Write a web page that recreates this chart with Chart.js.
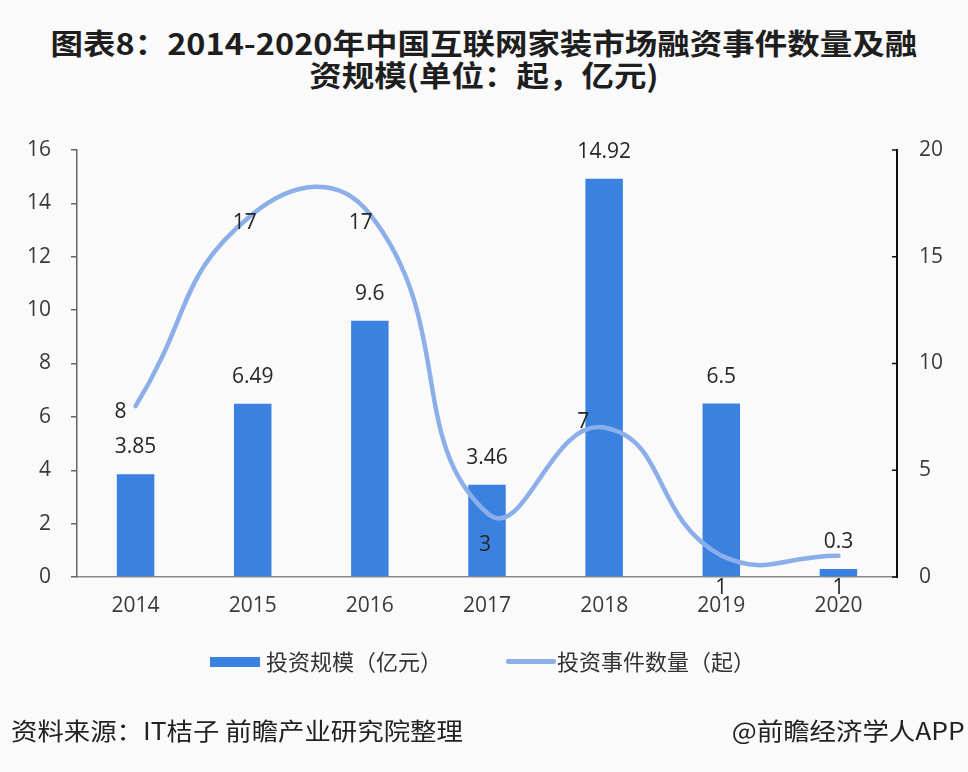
<!DOCTYPE html>
<html><head><meta charset="utf-8">
<script src="https://cdn.jsdelivr.net/npm/chart.js@4.4.0/dist/chart.umd.min.js"></script>
<style>
html,body{margin:0;padding:0;background:#fafafa;}
#wrap{position:relative;width:968px;height:772px;overflow:hidden;background:#fafafa;font-family:"Noto Sans CJK SC","Noto Sans",sans-serif;}
#c{position:absolute;left:0;top:0;}
.title{position:absolute;left:0;width:968px;text-align:center;font-weight:bold;font-size:29px;color:#1e1e1e;line-height:32px;white-space:nowrap;}
.title span{display:inline-block;transform:scaleX(1.12);transform-origin:center;}
.leg{position:absolute;top:647px;height:26px;line-height:26px;font-size:22px;color:#333;white-space:nowrap;}
.sw-bar{position:absolute;width:50px;height:10px;background:#3b82e0;}
.sw-line{position:absolute;width:50px;height:5px;background:#8cafea;border-radius:2px;}
.foot{position:absolute;top:715px;font-size:24px;color:#222;line-height:30px;white-space:nowrap;}
.foot span{display:inline-block;transform:scaleX(1.1);}
</style></head>
<body>
<div id="wrap">
  <div class="title" style="top:26px"><span>图表8：2014-2020年中国互联网家装市场融资事件数量及融</span></div>
  <div class="title" style="top:58px"><span>资规模(单位：起，亿元)</span></div>
  <canvas id="c" width="968" height="772"></canvas>
  <div class="sw-bar" style="left:210px;top:657px"></div>
  <div class="leg" style="left:266px">投资规模（亿元）</div>
  <div class="sw-line" style="left:506px;top:659px"></div>
  <div class="leg" style="left:557px">投资事件数量（起）</div>
  <div class="foot" style="left:11px"><span style="transform-origin:left center">资料来源：IT桔子 前瞻产业研究院整理</span></div>
  <div class="foot" style="right:3px"><span style="transform-origin:right center">@前瞻经济学人APP</span></div>
</div>
<script>
const categories = ['2014','2015','2016','2017','2018','2019','2020'];
const investAmount = [3.85, 6.49, 9.6, 3.46, 14.92, 6.5, 0.3];
const eventCount = [8, 17, 17, 3, 7, 1, 1];
const leftAxisMax = 16, leftAxisStep = 2;
const rightAxisMax = 20, rightAxisStep = 5;

// label placement (style only)
const lineLabelOffsets = [[-15,6],[-8,9],[-9,9],[-2,32],[-21,-6],[0,32],[0,32]];

const FONT = '"Open Sans", "Noto Sans", sans-serif';

const labelPlugin = {
  id: 'labels',
  afterDatasetsDraw(chart) {
    const ctx = chart.ctx;
    ctx.save();
    ctx.font = '21px ' + FONT;
    ctx.fillStyle = '#262626';
    ctx.textAlign = 'center';
    ctx.textBaseline = 'middle';
    chart.getDatasetMeta(0).data.forEach((el, i) => {
      ctx.fillText(String(investAmount[i]), el.x, el.y - 27);
    });
    chart.getDatasetMeta(1).data.forEach((el, i) => {
      const o = lineLabelOffsets[i];
      ctx.fillText(String(eventCount[i]), el.x + o[0], el.y + o[1]);
    });
    ctx.restore();
  },
  afterDraw(chart) {
    const s = chart.scales.y1, ctx = chart.ctx;
    ctx.save();
    ctx.strokeStyle = '#111';
    ctx.lineWidth = 1.5;
    s.ticks.forEach(t => {
      const y = s.getPixelForValue(t.value);
      ctx.beginPath();
      ctx.moveTo(chart.chartArea.right - 5, y);
      ctx.lineTo(chart.chartArea.right, y);
      ctx.stroke();
    });
    ctx.restore();
  }
};

new Chart(document.getElementById('c'), {
  data: {
    labels: categories,
    datasets: [
      { type: 'bar', label: '投资规模（亿元）', data: investAmount, yAxisID: 'y',
        backgroundColor: '#3b82e0', categoryPercentage: 1, barPercentage: 0.32, order: 2 },
      { type: 'line', label: '投资事件数量（起）', data: eventCount, yAxisID: 'y1',
        borderColor: '#8cafea', borderWidth: 4.5, tension: 0.5, pointRadius: 0,
        borderCapStyle: 'round', fill: false, order: 1 }
    ]
  },
  options: {
    responsive: false,
    animation: false,
    layout: { padding: { top: 150, bottom: 155, left: 0, right: 0 } },
    plugins: { legend: { display: false }, tooltip: { enabled: false }, title: { display: false } },
    scales: {
      x: {
        grid: { display: false },
        border: { display: true, color: '#8a8a8a', width: 1.5 },
        ticks: { color: '#3a3a3a', font: { size: 21, family: FONT }, padding: 8 },
        afterFit(s) { s.height = 40; }
      },
      y: {
        position: 'left', min: 0, max: leftAxisMax,
        ticks: { stepSize: leftAxisStep, color: '#3a3a3a', font: { size: 21, family: FONT }, padding: 20 },
        grid: { drawOnChartArea: false, drawTicks: true, tickLength: 6, color: '#666', lineWidth: 1.5 },
        border: { display: true, color: '#666', width: 1.5 },
        afterFit(s) { s.width = 77; }
      },
      y1: {
        position: 'right', min: 0, max: rightAxisMax,
        ticks: { stepSize: rightAxisStep, color: '#3a3a3a', font: { size: 21, family: FONT }, padding: 22 },
        grid: { display: false, drawOnChartArea: false, drawTicks: false, tickLength: 0 },
        border: { display: true, color: '#111', width: 2 },
        afterFit(s) { s.width = 71; }
      }
    }
  },
  plugins: [labelPlugin]
});
</script>
</body></html>
